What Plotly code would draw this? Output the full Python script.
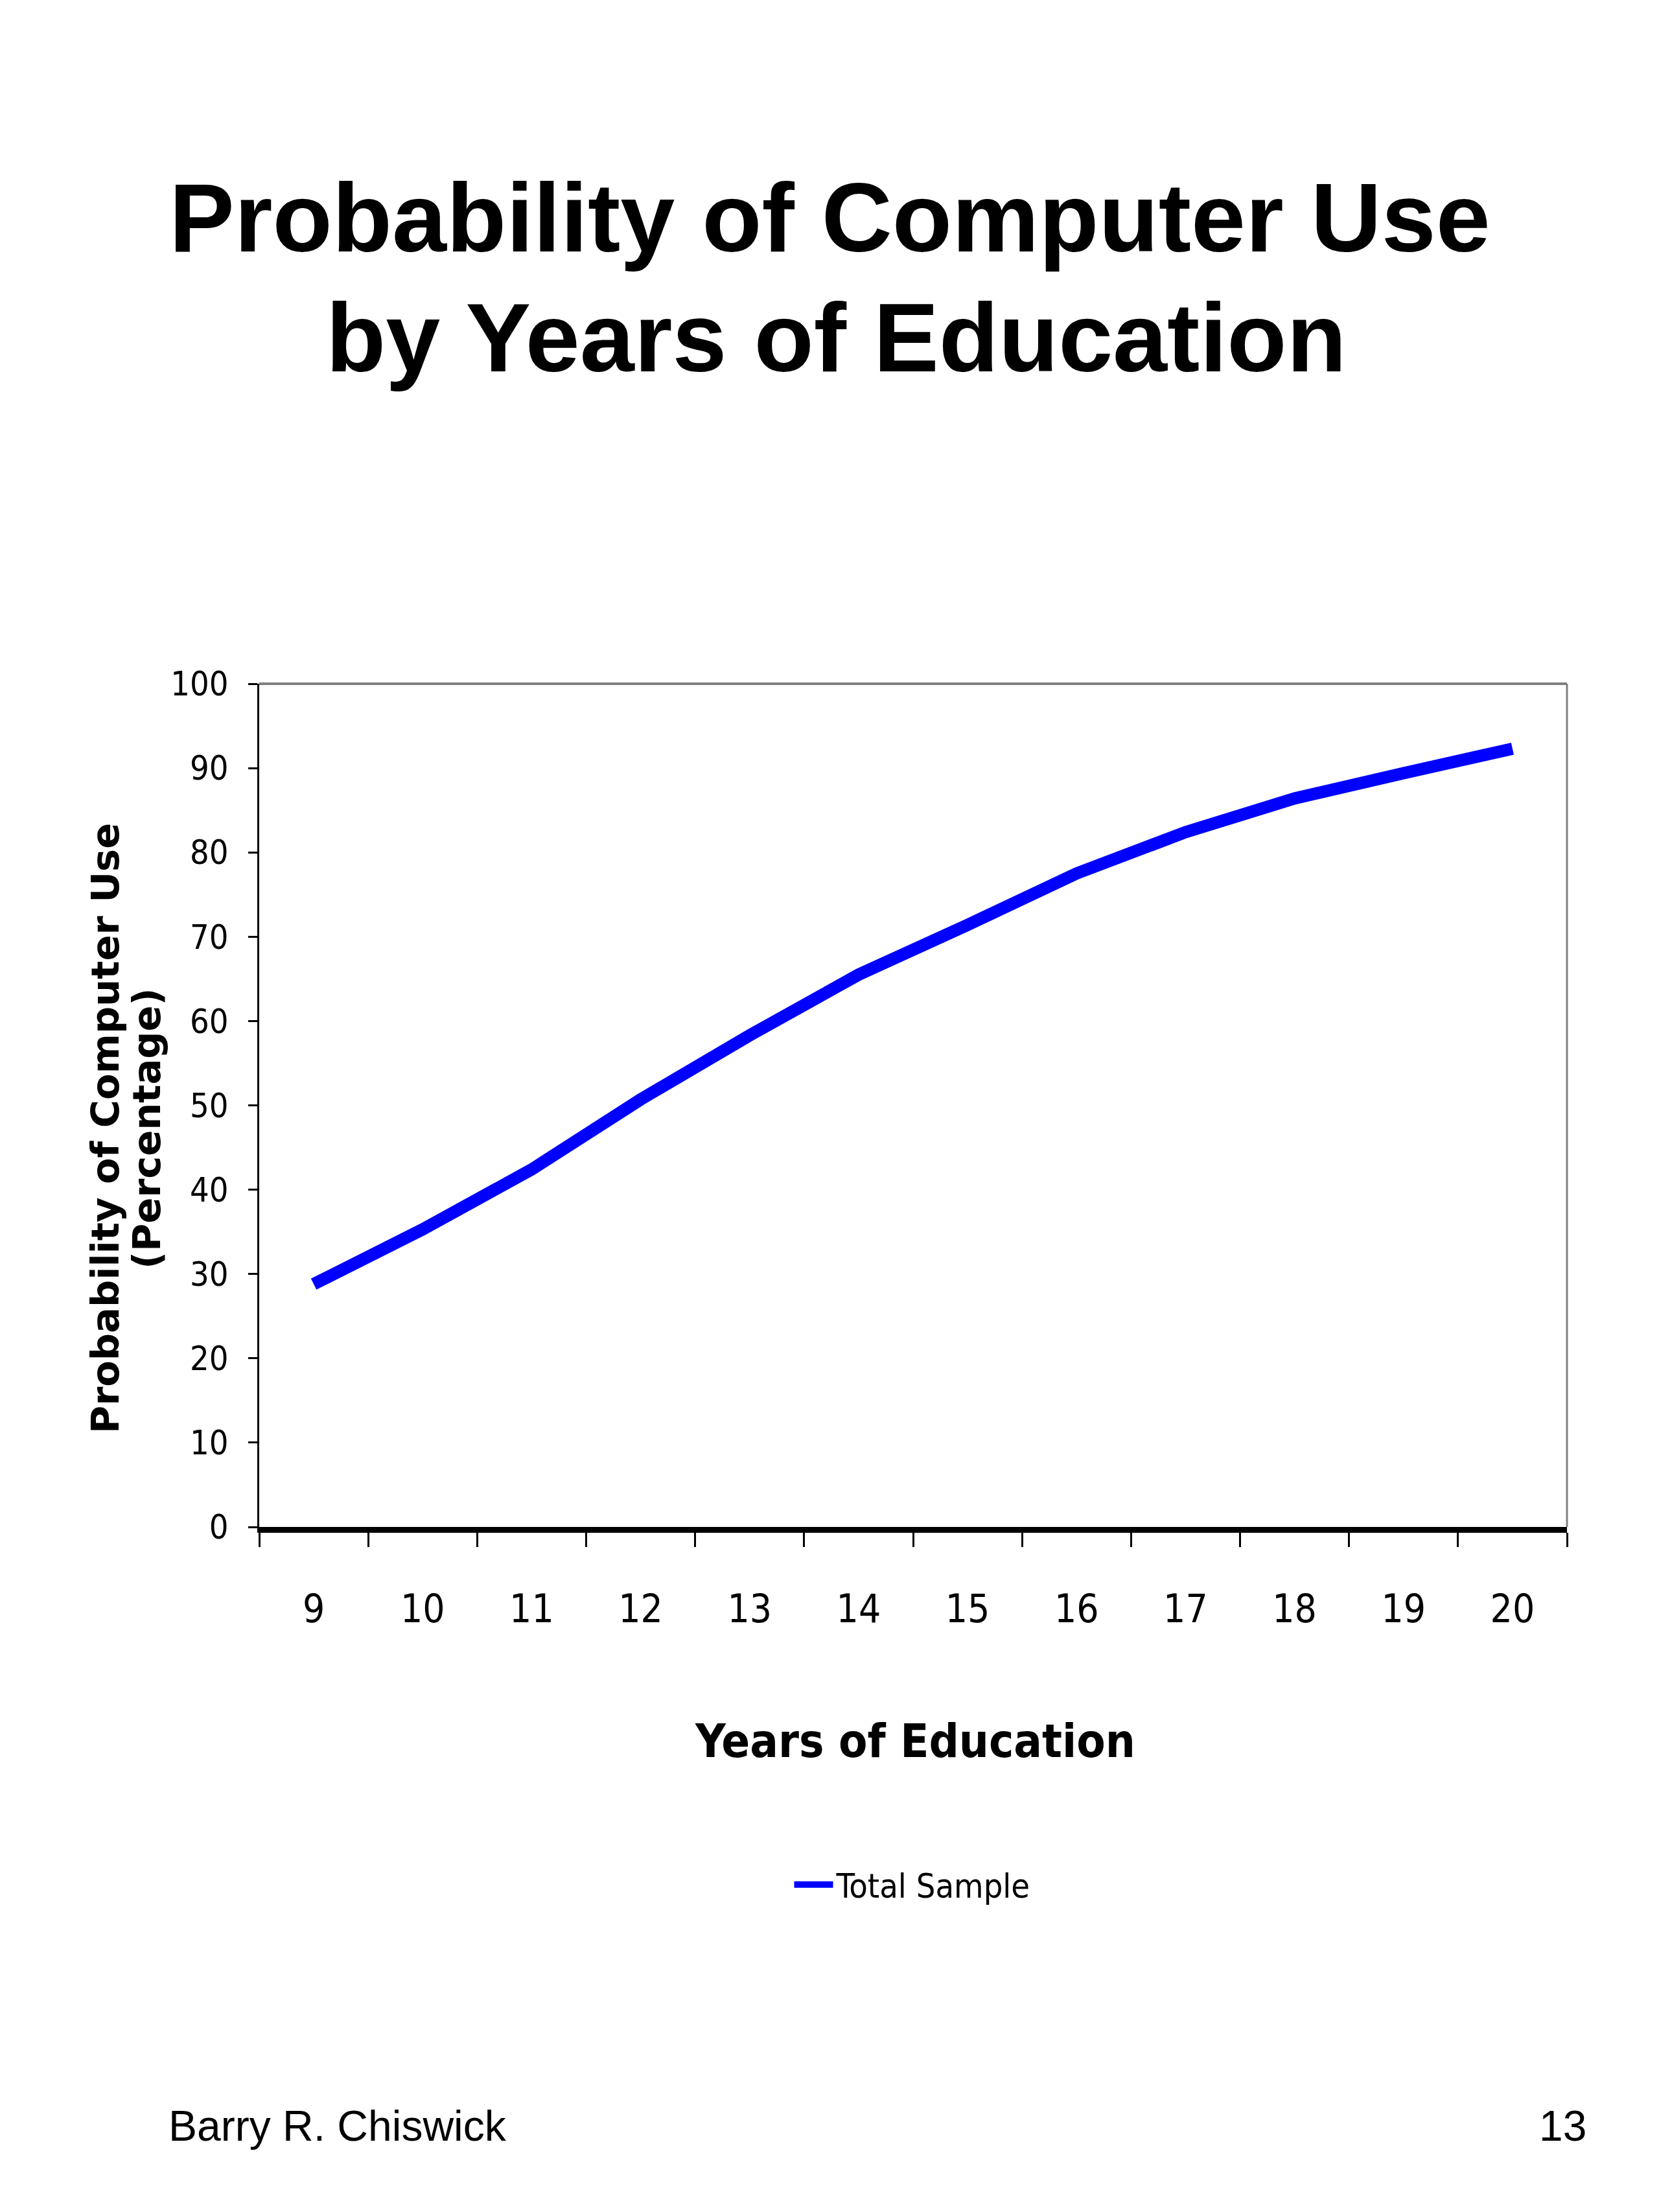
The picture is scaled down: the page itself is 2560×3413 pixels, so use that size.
import plotly.graph_objects as go

# ---- data ----
years = ["9", "10", "11", "12", "13", "14", "15", "16", "17", "18", "19", "20"]
total_sample = [28.8, 35.3, 42.4, 50.7, 58.3, 65.5, 71.4, 77.5, 82.4, 86.4, 89.4, 92.3]
y_ticks = [0, 10, 20, 30, 40, 50, 60, 70, 80, 90, 100]

W, H = 2560, 3413
L, R, T, B = 392, 2410, 1047, 2348  # plot area in pixels
PW, PH = R - L, B - T


def px(x):
    return (x - L) / PW


def py(y):
    return (B - y) / PH


NARROW = "DejaVu Sans Condensed, Liberation Sans Narrow, Arial Narrow, Liberation Sans, Arial, sans-serif"
SANS = "Liberation Sans, Arial, Helvetica, sans-serif"
WIDE = "DejaVu Sans, Verdana, Liberation Sans, sans-serif"

fig = go.Figure()
fig.add_trace(go.Scatter(
    x=years, y=total_sample, mode="lines", name="Total Sample",
    line=dict(color="#0000FF", width=19),
))

fig.update_layout(
    width=W, height=H,
    margin=dict(l=L, r=W - R, t=T, b=H - B, autoexpand=False),
    paper_bgcolor="white", plot_bgcolor="white",
    showlegend=True,
    legend=dict(
        x=px(1400), y=py(2900), xanchor="center", yanchor="middle",
        font=dict(family=NARROW, size=52, color="black"),
        bgcolor="rgba(0,0,0,0)", itemwidth=60,
    ),
    xaxis=dict(
        type="category", tickson="boundaries",
        ticks="outside", ticklen=22, tickwidth=3, tickcolor="black",
        showline=True, linecolor="black", linewidth=9,
        showgrid=False, zeroline=False,
        tickfont=dict(family=NARROW, size=60, color="black"),
        ticklabelstandoff=66,
        range=[-0.5, 11.5],
    ),
    yaxis=dict(
        range=[0, 100], tickvals=y_ticks,
        ticks="outside", ticklen=14, tickwidth=3, tickcolor="black",
        showline=True, linecolor="black", linewidth=3,
        showgrid=False, zeroline=False,
        tickfont=dict(family=NARROW, size=52, color="black"),
        ticklabelstandoff=20,
    ),
)

# grey top/right frame
fig.add_shape(type="line", xref="paper", yref="paper", x0=0, x1=1, y0=1, y1=1,
              line=dict(color="#808080", width=4))
fig.add_shape(type="line", xref="paper", yref="paper", x0=1, x1=1, y0=0, y1=1,
              line=dict(color="#808080", width=3))

annotations = [
    dict(text="<b>Probability of Computer Use</b>", x=px(1272), y=py(327),
         font=dict(family=SANS, size=151, color="black")),
    dict(text="<b>by Years of Education</b>", x=px(1282), y=py(512),
         font=dict(family=SANS, size=151, color="black")),
    dict(text="<b>Years of Education</b>", x=px(1404), y=py(2678),
         font=dict(family=NARROW, size=72, color="black")),
    dict(text="<b>Probability of Computer Use</b>", x=px(154), y=py(1733),
         textangle=-90, font=dict(family=WIDE, size=59, color="black")),
    dict(text="<b>(Percentage)</b>", x=px(218), y=py(1733),
         textangle=-90, font=dict(family=WIDE, size=59, color="black")),
    dict(text="Barry R. Chiswick", x=px(250), y=py(3272), xanchor="left",
         font=dict(family=SANS, size=66, color="black")),
    dict(text="13", x=px(2442), y=py(3272), xanchor="right",
         font=dict(family=SANS, size=66, color="black")),
]
for a in annotations:
    a.setdefault("xanchor", "center")
    a.update(xref="paper", yref="paper", yanchor="middle", showarrow=False)
    fig.add_annotation(**a)

fig.write_html("out.html")
